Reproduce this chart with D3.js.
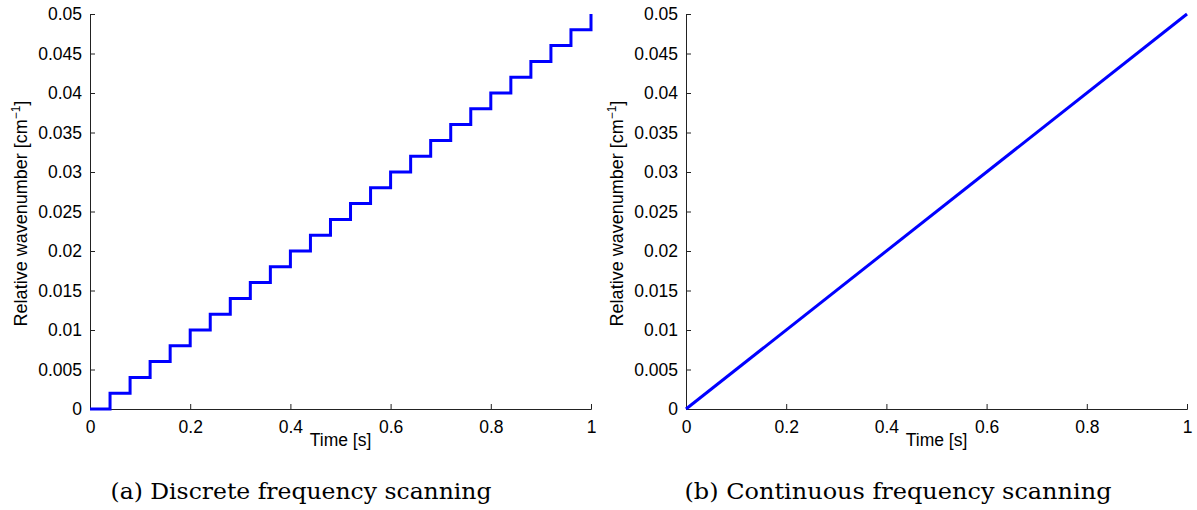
<!DOCTYPE html>
<html><head><meta charset="utf-8">
<script src="https://cdn.jsdelivr.net/npm/d3@7"></script>
<style>
body{margin:0;background:#fff;}
svg text{font-family:"Liberation Sans",Arial,sans-serif;fill:#000;}
.cap{font-family:"DejaVu Serif","Liberation Serif",serif;}
</style></head><body>
<svg id="c" width="1197" height="510"></svg>
<script>
// Discrete scan: step times and values
const stepTimes = [0,0.04,0.08,0.12,0.16,0.2,0.24,0.28,0.32,0.36,0.4,0.44,0.48,0.52,0.56,0.6,0.64,0.68,0.72,0.76,0.8,0.84,0.88,0.92,0.96,1];
const stepValues = [0,0.002,0.004,0.006,0.008,0.01,0.012,0.014,0.016,0.018,0.02,0.022,0.024,0.026,0.028,0.03,0.032,0.034,0.036,0.038,0.04,0.042,0.044,0.046,0.048,0.05];
// Continuous scan
const contTimes = [0,1];
const contValues = [0,0.05];
const xTicks = [0,0.2,0.4,0.6,0.8,1];
const yTicks = [0,0.005,0.01,0.015,0.02,0.025,0.03,0.035,0.04,0.045,0.05];
const captions = ["(a) Discrete frequency scanning","(b) Continuous frequency scanning"];
const xLabel = "Time [s]";

const svg = d3.select("#c");
const panels = [
  {left:90, right:591, top:14, bottom:409, times:stepTimes, values:stepValues, curve:d3.curveStepAfter, cap:captions[0], capX:301, capW:381},
  {left:686, right:1187, top:14, bottom:409, times:contTimes, values:contValues, curve:d3.curveLinear, cap:captions[1], capX:898, capW:427}
];
const fmt = d => d===0?"0":d===1?"1":String(+d.toFixed(3));
panels.forEach(p=>{
  const x = d3.scaleLinear().domain([0,1]).range([p.left,p.right]);
  const y = d3.scaleLinear().domain([0,0.05]).range([p.bottom,p.top]);
  const g = svg.append("g");
  const xa = g.append("g").attr("transform",`translate(0,${p.bottom})`)
    .call(d3.axisBottom(x).tickValues(xTicks).tickSize(-5).tickPadding(9).tickFormat(fmt));
  const ya = g.append("g").attr("transform",`translate(${p.left},0)`)
    .call(d3.axisLeft(y).tickValues(yTicks).tickSize(-5).tickPadding(8).tickFormat(fmt));
  [xa,ya].forEach(a=>{
    a.select(".domain").attr("stroke","#222").attr("stroke-width",1);
    a.selectAll(".tick line").attr("stroke","#222");
    a.selectAll("text").attr("font-size",17.5).attr("fill","#000");
  });
  xa.selectAll("text").attr("dy","0.85em");
  const line = d3.line().x(d=>x(d[0])).y(d=>y(d[1])).curve(p.curve);
  g.append("path").datum(p.times.map((t,i)=>[t,p.values[i]]))
    .attr("d",line).attr("fill","none").attr("stroke","#0000ff").attr("stroke-width",3);
  g.append("text").attr("x",(p.left+p.right)/2).attr("y",446).attr("text-anchor","middle")
    .attr("font-size",17.5).text(xLabel);
  const yl = g.append("text").attr("transform",`translate(${p.left-63},${(p.top+p.bottom)/2+2}) rotate(-90)`)
    .attr("text-anchor","middle").attr("font-size",18);
  yl.append("tspan").text("Relative wavenumber [cm");
  yl.append("tspan").attr("font-size",12).attr("dy",-7).text("−1");
  yl.append("tspan").attr("dy",7).text("]");
  svg.append("text").attr("class","cap").attr("x",p.capX).attr("y",499)
    .attr("text-anchor","middle").attr("font-size",23)
    .attr("textLength",p.capW).attr("lengthAdjust","spacingAndGlyphs").text(p.cap);
});
</script></body></html>
